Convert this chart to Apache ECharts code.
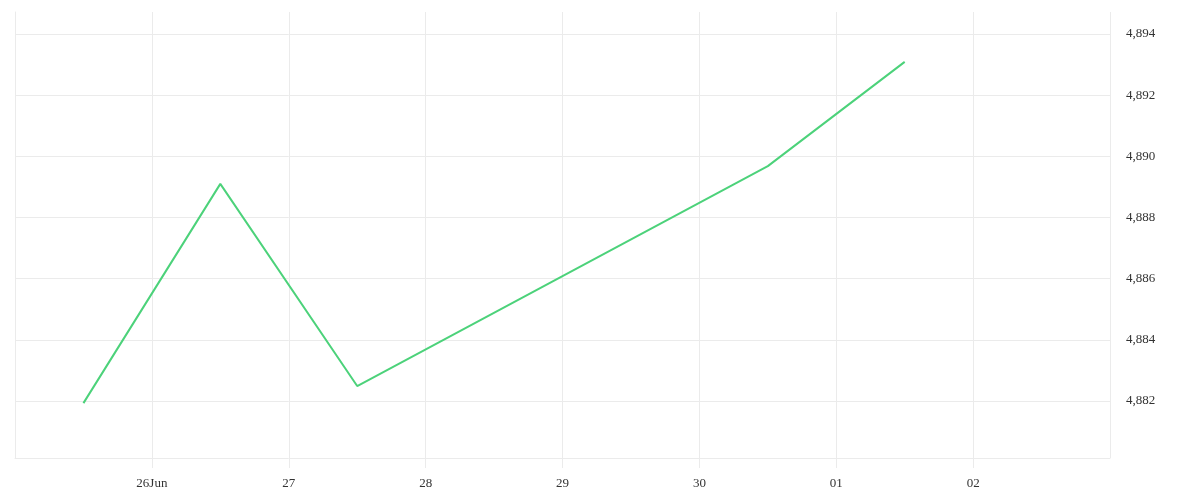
<!DOCTYPE html>
<html>
<head>
<meta charset="utf-8">
<script src="https://cdn.jsdelivr.net/npm/echarts@6/dist/echarts.min.js"></script>
<style>html,body{margin:0;padding:0;background:#fff}#c{width:1200px;height:500px}</style>
</head>
<body>
<div id="c"></div>
<script>
// Data
var startDate = '2025-06-25T00:00:00';
var dates = ['2025-06-25T12:00:00', '2025-06-26T12:00:00', '2025-06-27T12:00:00', '2025-06-30T12:00:00', '2025-07-01T12:00:00'];
var values = [4881.93, 4889.10, 4882.49, 4889.68, 4893.09];
var xTickLabels = ['25', '26Jun', '27', '28', '29', '30', '01', '02', '03'];
var yTicks = [4882, 4884, 4886, 4888, 4890, 4892, 4894];

var DAY = 86400000;
var t0 = new Date(startDate).getTime();
var seriesData = dates.map(function (d, i) {
  return [(new Date(d).getTime() - t0) / DAY, values[i]];
});

var gridColor = '#ebebeb';
var font = 'Liberation Serif';
var chart = echarts.init(document.getElementById('c'));
chart.setOption({
  animation: false,
  grid: { left: 15, right: 90, top: 12, bottom: 42, containLabel: false },
  xAxis: {
    type: 'value',
    min: 0, max: 8, interval: 1,
    axisLine: { show: true, lineStyle: { color: gridColor, width: 1 } },
    axisTick: { show: true, length: 10, lineStyle: { color: gridColor } },
    splitLine: { show: true, lineStyle: { color: gridColor } },
    axisLabel: {
      showMinLabel: false, showMaxLabel: false,
      margin: 19,
      color: '#333',
      fontFamily: font, fontSize: 13,
      formatter: function (v) { return xTickLabels[Math.round(v)]; }
    }
  },
  yAxis: {
    type: 'value',
    position: 'right',
    min: 4880.136, max: 4894.72,
    axisLine: { show: true, lineStyle: { color: gridColor } },
    axisTick: { show: false, customValues: yTicks },
    splitLine: { show: true, lineStyle: { color: gridColor } },
    axisLabel: {
      customValues: yTicks,
      padding: [6, 0, 0, 0],
      margin: 16, color: '#333', fontFamily: font, fontSize: 13
    }
  },
  series: [{
    type: 'line',
    data: seriesData,
    showSymbol: false,
    lineStyle: { color: '#4cd27a', width: 2 },
    itemStyle: { color: '#4cd27a' }
  }]
});
</script>
</body>
</html>
